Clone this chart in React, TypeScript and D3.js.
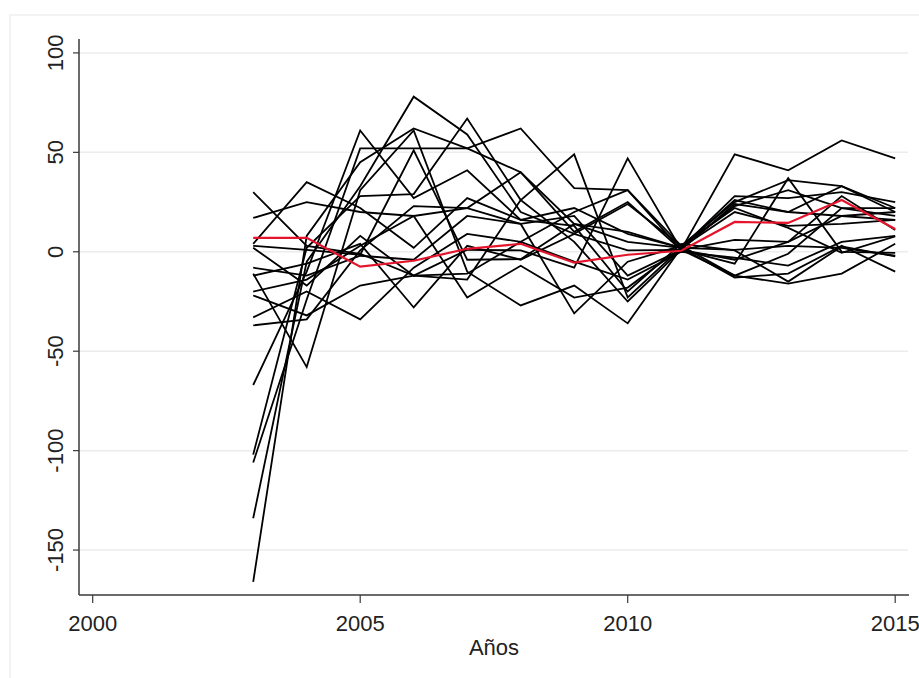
import React from 'react';
import * as d3 from 'd3';

const years = [2003, 2004, 2005, 2006, 2007, 2008, 2009, 2010, 2011, 2012, 2013, 2014, 2015];

// one row per unit
const series = [
  [-166, 8, 45, 62, 52, 40, 14, 5, 2, 28, 27, 30, 25],
  [-134, -5, 33, 78, 59, 20, 9, 24, 3, 25, 36, 33, 22],
  [-106, -24, 52, 52, 52, 62, 32, 31, 1, 24, 20, 18, 20],
  [-102, 2, 28, 29, 67, 26, 49, -23, 2, 23, 31, 22, 18],
  [-67, -10, 61, 27, 41, 16, 22, 9, 2, 20, 13, 14, 16],
  [-37, -34, 0.7, 23, 22, 14, 18, -12, 1, 6, 5, 28, 11],
  [-33, -20, -34, -8, 9, 5, -5, -14, 0, -3, -7, 5, 8],
  [-22, -32, -17, -12, -14, 26, 5, -25, 1, -12, -16, -11, 4],
  [-20, -14, 3, 18, -23, -7, -23, -18, 2, 1, 3, 2, -2],
  [-12, -6, 4, -28, 3, -4, 9, 0.7, 1, -6, 37, 0, -0.6],
  [-11, -58, 31, 61, -10, -27, -17, -36, 2, -13, -11, 3, -10],
  [-8, -12, -2, -4, 18, 14, -31, -5, 3, 22, 12, -0.5, 7.7],
  [2, -17, 8, -12, 1, 0.7, -8, 47, 1, 49, 41, 56, 47],
  [3, 1, -1.5, 51, -4, -3.7, 14, 10, 2, 26, 20, 33, 20],
  [4, 35, 22, 2, 27, 16, 13, -20, 4, 0.7, -15, 2.7, -2.3],
  [17, 25, 20, 18, 22, 40, 10, 25, 1, -4, 5, 18, 16],
  [30, 3, -1, -12, -11, 5, 20, 31, 3, -12, -1, 22, 22],
];

const redSeries = [7, 7, -7.5, -4.5, 1.5, 4, -5.5, -1.5, 0.5, 15, 14.5, 26, 11.5];

const yTicks = [-150, -100, -50, 0, 50, 100];
const xTicks = [2000, 2005, 2010, 2015];
const xTitle = 'Años';

const W = 919;
const H = 678;

export default function App() {
  const x = d3.scaleLinear().domain([1999.744, 2015.258]).range([79, 909]);
  const y = d3.scaleLinear().domain([-172.6, 107]).range([595, 39]);

  const line = d3
    .line<number>()
    .x((_, i) => x(years[i]))
    .y((d) => y(d));

  const font = '"Liberation Sans", Arial, sans-serif';
  const [x0, x1] = x.range();
  const [yb, yt] = y.range();

  return (
    <svg
      width={W}
      height={H}
      style={{ position: 'absolute', left: 0, top: 0, background: '#fff' }}
      fontFamily={font}
    >
      <rect x={10} y={15} width={W} height={H} fill="#fff" stroke="#efefef" strokeWidth={1.5} />

      {yTicks.map((t) => (
        <line key={'g' + t} x1={x0} x2={x1 - 1} y1={y(t)} y2={y(t)} stroke="#ececec" strokeWidth={1.5} />
      ))}

      {series.map((s, i) => (
        <path key={i} d={line(s) || ''} fill="none" stroke="#000" strokeWidth={1.8} strokeLinejoin="miter" />
      ))}
      <path d={line(redSeries) || ''} fill="none" stroke="#e3142b" strokeWidth={2.2} />

      {/* axes */}
      <line x1={x0} x2={x0} y1={yt} y2={yb} stroke="#3a3a3a" strokeWidth={1.5} />
      <line x1={x0} x2={x1} y1={yb} y2={yb} stroke="#3a3a3a" strokeWidth={1.5} />

      {yTicks.map((t) => (
        <g key={'y' + t}>
          <line x1={x0 - 6} x2={x0} y1={y(t)} y2={y(t)} stroke="#3a3a3a" strokeWidth={1.2} />
          <text
            transform={`translate(63,${y(t)}) rotate(-90)`}
            textAnchor="middle"
            fontSize={22}
            fill="#222"
          >
            {t}
          </text>
        </g>
      ))}

      {xTicks.map((t) => (
        <g key={'x' + t}>
          <line x1={x(t)} x2={x(t)} y1={yb} y2={yb + 8} stroke="#3a3a3a" strokeWidth={1.2} />
          <text x={x(t)} y={631} textAnchor="middle" fontSize={22} fill="#222">
            {t}
          </text>
        </g>
      ))}

      <text x={(x0 + x1) / 2} y={655} textAnchor="middle" fontSize={22} fill="#222">
        {xTitle}
      </text>
    </svg>
  );
}
